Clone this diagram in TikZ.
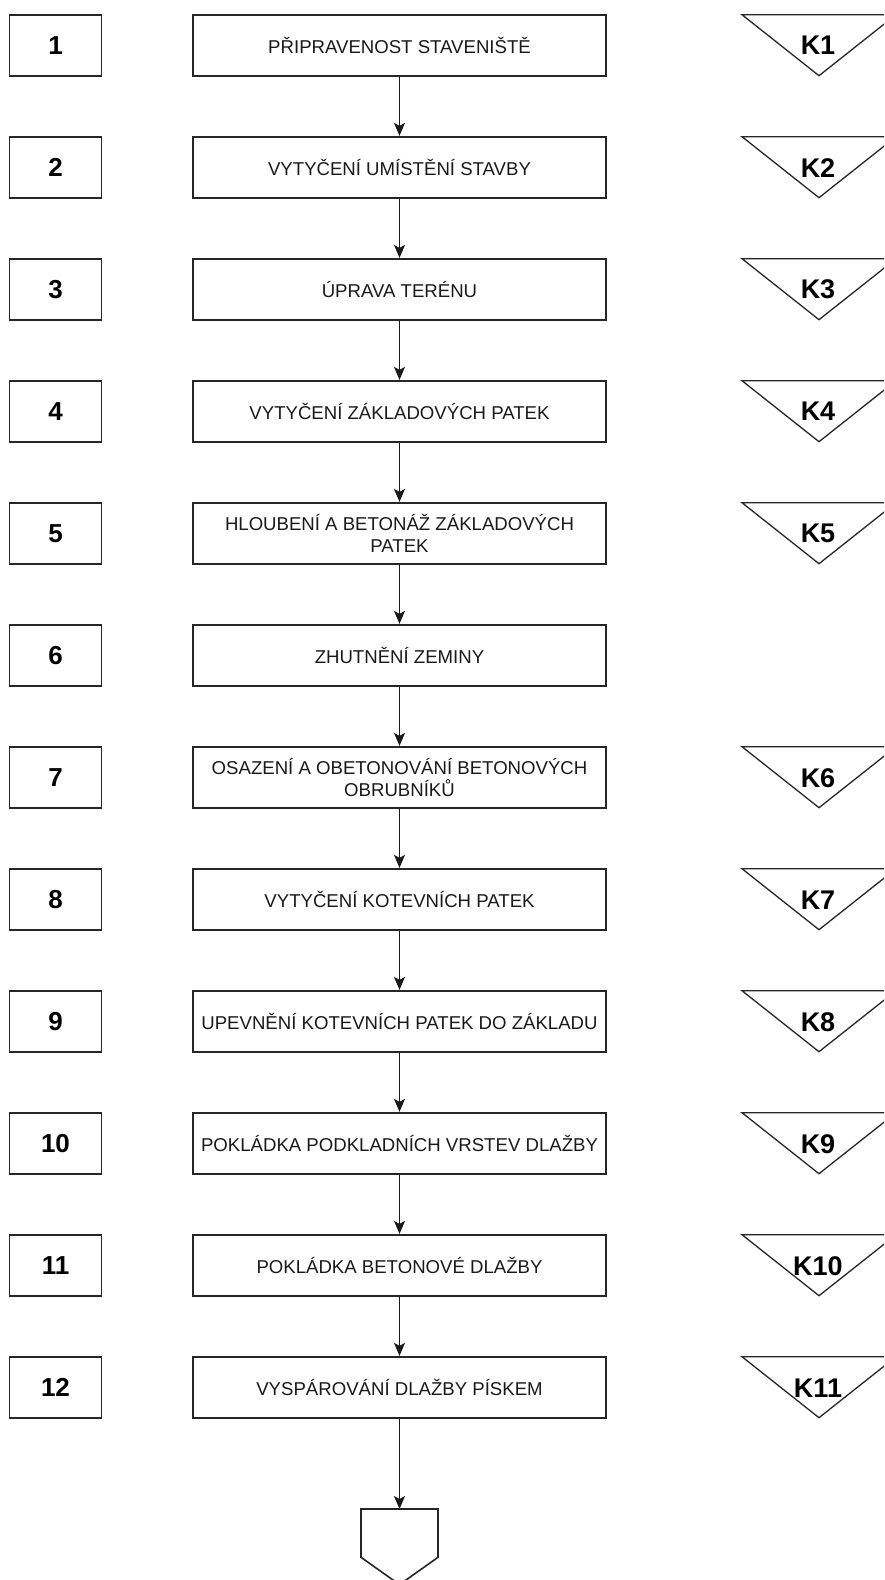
\documentclass[tikz,border=0pt]{standalone}
\usepackage{fontspec}
\setmainfont{Liberation Sans}
\usetikzlibrary{arrows.meta}
\begin{document}
\begin{tikzpicture}[x=1pt,y=-1pt,
  numbox/.style={draw=black!85, line width=1.6pt, minimum width=92pt, minimum height=61pt, inner sep=0pt, font=\fontsize{26}{30}\selectfont\bfseries},
  stepbox/.style={draw=black!85, line width=1.6pt, minimum width=413pt, minimum height=61pt, inner sep=0pt, align=center, font=\fontsize{18.6}{22}\selectfont, text=black!90},
  klabel/.style={font=\fontsize{27}{30}\selectfont\bfseries, inner sep=0pt},
  tri/.style={draw=black!85, line width=1.3pt, line join=miter},
  flow/.style={-{Stealth[length=13pt,width=11pt,inset=3pt]}, line width=1.5pt, draw=black!90},
  endshape/.style={draw=black!85, line width=1.6pt}
]
\useasboundingbox (0,0) rectangle (884,1580);
\clip (0,0) rectangle (884,1580);
\foreach \i/\t in {1/{PŘIPRAVENOST STAVENIŠTĚ},2/{VYTYČENÍ UMÍSTĚNÍ STAVBY},3/{ÚPRAVA TERÉNU},4/{VYTYČENÍ ZÁKLADOVÝCH PATEK},5/{HLOUBENÍ A BETONÁŽ ZÁKLADOVÝCH\\PATEK},6/{ZHUTNĚNÍ ZEMINY},7/{OSAZENÍ A OBETONOVÁNÍ BETONOVÝCH\\OBRUBNÍKŮ},8/{VYTYČENÍ KOTEVNÍCH PATEK},9/{UPEVNĚNÍ KOTEVNÍCH PATEK DO ZÁKLADU},10/{POKLÁDKA PODKLADNÍCH VRSTEV DLAŽBY},11/{POKLÁDKA BETONOVÉ DLAŽBY},12/{VYSPÁROVÁNÍ DLAŽBY PÍSKEM}}{
  \pgfmathsetmacro{\yc}{45.2+122*(\i-1)}
  \node[numbox] (n\i) at (55.5,\yc) {\i};
  \node[stepbox] (s\i) at (399.5,\yc) {\t};
}
\foreach \i [evaluate=\i as \j using int(\i+1)] in {1,...,11}
  \draw[flow] (s\i.south) -- (s\j.north);
\foreach \r/\k in {1/1,2/2,3/3,4/4,5/5,7/6,8/7,9/8,10/9,11/10,12/11}{
  \pgfmathsetmacro{\yt}{14.7+122*(\r-1)}
  \draw[tri] (742,\yt) -- (896,\yt) -- (819,\yt+61) -- cycle;
  \node[klabel] (k\k) at (818,\yt+31) {K\k};
}
\coordinate (endtop) at (399.5,1509);
\draw[endshape] (361,1509) -- (438,1509) -- (438,1557.3) -- (399.5,1584.6) -- (361,1557.3) -- cycle;
\draw[flow] (s12.south) -- (endtop);
\end{tikzpicture}
\end{document}
